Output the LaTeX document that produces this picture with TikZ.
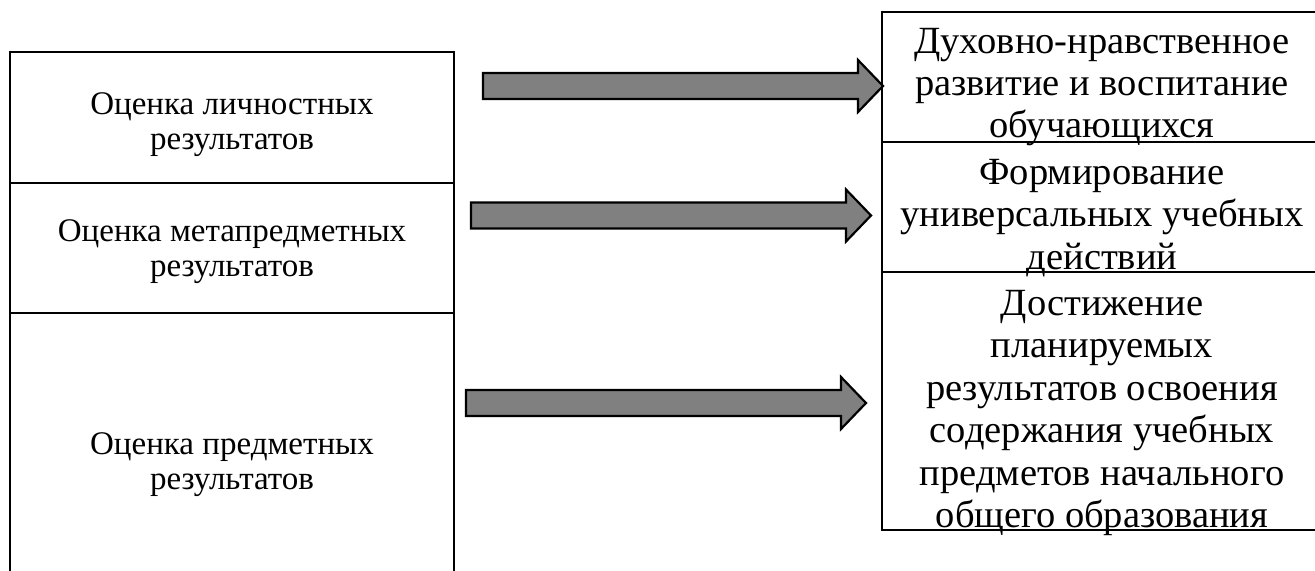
\documentclass[tikz,border=0pt]{standalone}
\usepackage{fontspec}
\setmainfont{Liberation Serif}
\usepackage{tikz}

\tikzset{
  boxline/.style={line width=1pt},
  blockarrow/.style={fill=gray!100!white, draw=black, line width=0.8pt, line join=miter},
  lefttext/.style={align=center, inner sep=0pt, font=\fontsize{12}{12.7}\selectfont},
  righttext/.style={align=center, inner sep=0pt, font=\fontsize{14}{15.4}\selectfont}
}
\newcommand{\bigarrow}[1]{\filldraw[blockarrow] (#1) ++(0,-13) -- ++(375,0) -- ++(0,-13) -- ++(25,26) -- ++(-25,26) -- ++(0,-13) -- ++(-375,0) -- cycle;}

\begin{document}
\begin{tikzpicture}[x=0.3636pt, y=-0.3636pt]
\useasboundingbox (0,0) rectangle (1315,570);
\clip (0,0) rectangle (1315,570);
\fill[white] (0,0) rectangle (1315,570);
\draw[boxline] (10,52) rectangle (454,600);
\draw[boxline] (10,183) -- (454,183);
\draw[boxline] (10,313) -- (454,313);
\draw[boxline] (882,12) rectangle (1340,530);
\draw[boxline] (882,142) -- (1340,142);
\draw[boxline] (882,272) -- (1340,272);
\node[lefttext] (lichn) at (232,125) {Оценка личностных\\результатов};
\node[lefttext] (meta) at (232,252) {Оценка метапредметных\\результатов};
\node[lefttext] (predm) at (232,465) {Оценка предметных\\результатов};
\node[righttext] (dukh) at (1102,87) {Духовно-нравственное\\развитие и воспитание\\обучающихся};
\node[righttext] (uud) at (1102,218) {Формирование\\универсальных учебных\\действий};
\node[righttext] (dost) at (1102,413) {Достижение\\планируемых\\результатов освоения\\содержания учебных\\предметов начального\\общего образования};
\coordinate (a1) at (483,86);
\coordinate (a2) at (471,215.5);
\coordinate (a3) at (466,403);
\bigarrow{a1}
\bigarrow{a2}
\bigarrow{a3}
\end{tikzpicture}
\end{document}
